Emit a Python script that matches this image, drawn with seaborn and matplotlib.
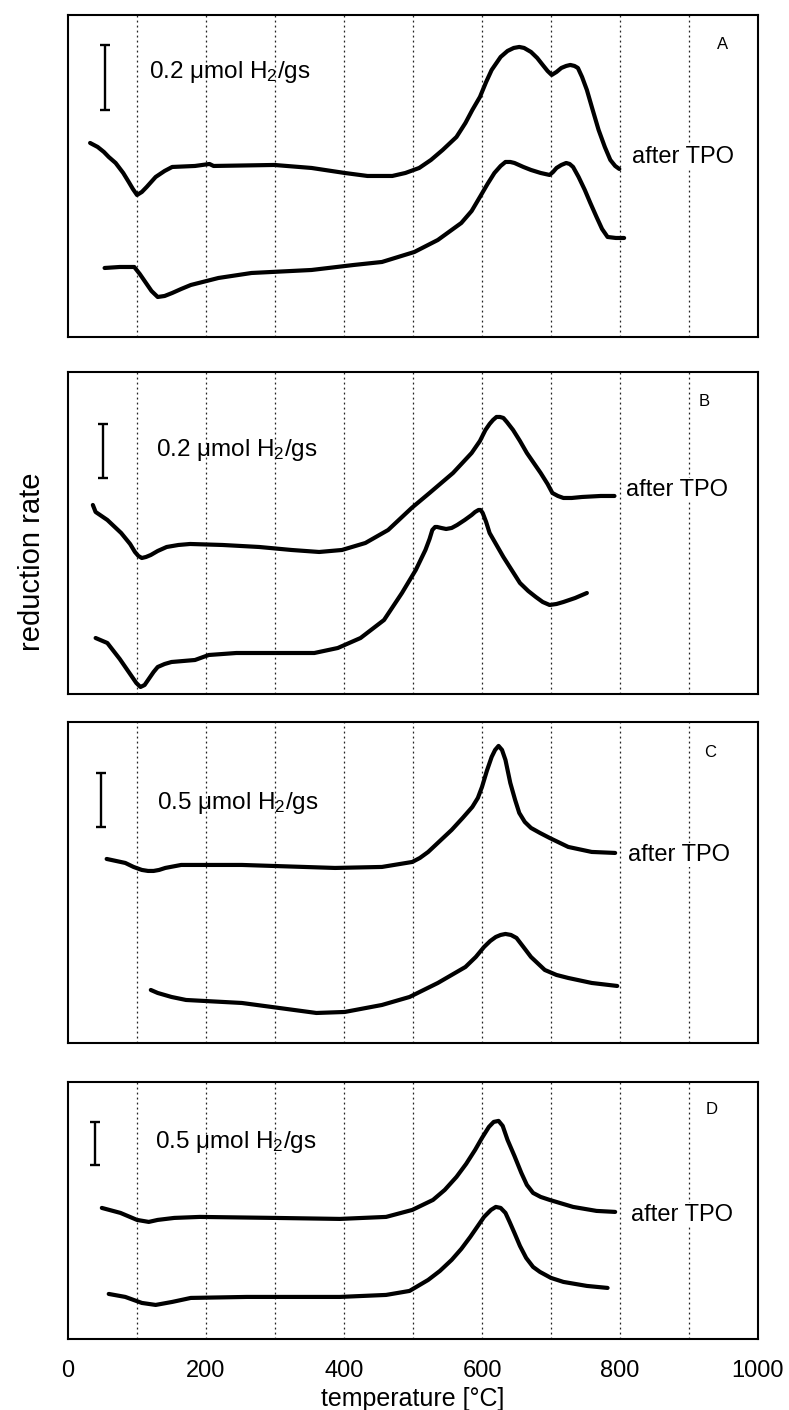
import numpy as np
import pandas as pd
import seaborn as sns
import matplotlib.pyplot as plt

# temperature [C] and signal (arbitrary units, height above panel floor)
a_tpo_t = [32, 43, 52, 59, 69, 80, 88, 94, 100, 107, 114, 127, 140, 151, 184, 205, 211, 299, 353, 401,
           434, 470, 489, 509, 526, 543, 563, 576, 586, 597, 606, 614, 621, 627, 637, 646, 654, 661, 671,
           680, 688, 695, 701, 708, 715, 722, 728, 734, 739, 745, 752, 760, 769, 778, 786, 793, 799]
a_tpo_y = [194, 190, 185, 180, 174, 164, 155, 148, 142, 145, 150, 160, 166, 170, 171, 173, 171, 172, 169, 164,
           161, 161, 164, 169, 177, 187, 200, 214, 227, 240, 255, 267, 274, 280, 286, 289, 290, 289, 285,
           279, 272, 266, 262, 265, 269, 271, 272, 271, 269, 260, 247, 228, 207, 190, 177, 171, 168]
a_raw_t = [53, 75, 96, 104, 113, 121, 130, 140, 151, 164, 178, 218, 266, 353, 414, 455, 502, 536, 570, 585,
           597, 608, 618, 627, 634, 641, 647, 660, 671, 685, 698, 703, 708, 715, 722, 727, 732, 740, 749,
           757, 766, 774, 782, 794, 806]
a_raw_y = [69, 70, 70, 63, 54, 46, 40, 41, 44, 48, 52, 59, 64, 67, 72, 75, 85, 97, 114, 126,
           140, 153, 164, 171, 175, 175, 174, 170, 167, 164, 162, 165, 169, 172, 174, 173, 170, 160, 147,
           134, 120, 108, 100, 99, 99]

b_tpo_t = [36, 40, 57, 77, 90, 97, 102, 107, 113, 120, 130, 143, 160, 177, 224, 277, 324, 364, 397, 431,
           464, 498, 524, 558, 585, 597, 605, 611, 616, 621, 626, 631, 636, 645, 655, 665, 685, 695, 702,
           710, 718, 730, 745, 772, 792]
b_tpo_y = [189, 182, 174, 161, 150, 142, 138, 136, 137, 139, 143, 147, 149, 150, 149, 147, 144, 142, 144, 151,
           164, 186, 201, 221, 241, 253, 264, 270, 274, 277, 277, 276, 272, 264, 253, 241, 221, 210, 201,
           198, 196, 196, 197, 198, 198]
b_raw_t = [40, 57, 66, 75, 84, 92, 99, 105, 111, 118, 124, 130, 140, 150, 184, 204, 244, 297, 357, 391,
           424, 458, 484, 504, 518, 524, 528, 532, 535, 541, 548, 556, 564, 575, 585, 590, 595, 598, 601,
           606, 611, 621, 631, 643, 655, 667, 678, 688, 698, 708, 718, 735, 752]
b_raw_y = [56, 51, 43, 35, 26, 18, 11, 7, 9, 16, 22, 27, 30, 32, 34, 39, 41, 41, 41, 46,
           56, 74, 101, 124, 144, 155, 164, 167, 167, 166, 165, 166, 169, 174, 179, 182, 184, 184, 181,
           172, 161, 149, 137, 124, 111, 103, 97, 92, 89, 90, 92, 96, 101]

c_tpo_t = [56, 83, 95, 107, 116, 124, 132, 141, 164, 252, 387, 455, 499, 510, 522, 539, 556, 572, 586,
           594, 600, 607, 614, 619, 624, 629, 634, 641, 648, 654, 662, 671, 684, 698, 725, 759, 793]
c_tpo_y = [184, 180, 176, 173, 172, 172, 173, 175, 178, 178, 175, 176, 181, 185, 191, 202, 213, 225, 236,
           245, 256, 272, 286, 293, 297, 293, 283, 260, 243, 230, 221, 215, 210, 205, 196, 191, 190]
c_raw_t = [120, 130, 150, 171, 252, 306, 360, 401, 455, 495, 536, 576, 591, 603, 612, 620, 627, 634, 642,
           650, 660, 671, 691, 708, 725, 759, 796]
c_raw_y = [53, 50, 46, 43, 40, 35, 30, 31, 38, 46, 60, 76, 86, 96, 102, 106, 108, 109, 108,
           105, 96, 86, 73, 68, 65, 60, 57]

d_tpo_t = [49, 76, 100, 117, 130, 154, 191, 299, 394, 461, 499, 529, 546, 563, 577, 590, 600, 610, 617,
           624, 630, 637, 647, 657, 665, 674, 685, 698, 732, 766, 793]
d_tpo_y = [131, 126, 119, 117, 119, 121, 122, 121, 120, 122, 129, 139, 149, 162, 175, 189, 201, 212, 217,
           218, 213, 199, 183, 166, 154, 146, 142, 139, 132, 128, 127]
d_raw_t = [59, 83, 107, 127, 151, 178, 259, 394, 461, 495, 522, 539, 556, 570, 583, 594, 603, 613, 620,
           627, 634, 640, 647, 655, 664, 674, 684, 700, 718, 752, 782]
d_raw_y = [45, 42, 36, 34, 37, 41, 42, 42, 44, 48, 59, 68, 79, 90, 102, 113, 122, 129, 132,
           131, 126, 117, 106, 93, 81, 72, 67, 61, 57, 53, 51]

panel_names = ['A', 'B', 'C', 'D']
scale_labels = ['0.2 \u03bcmol H$_2$/gs', '0.2 \u03bcmol H$_2$/gs',
                '0.5 \u03bcmol H$_2$/gs', '0.5 \u03bcmol H$_2$/gs']

sns.set_theme(style='white')
plt.rcParams['font.family'] = ['Liberation Sans', 'DejaVu Sans']
plt.rcParams['mathtext.fontset'] = 'custom'
plt.rcParams['mathtext.rm'] = 'Liberation Sans'
plt.rcParams['mathtext.default'] = 'regular'
plt.rcParams['text.color'] = 'black'
plt.rcParams['axes.labelcolor'] = 'black'
plt.rcParams['xtick.color'] = 'black'

fig = plt.figure(figsize=(7.89, 14.10), dpi=100)

# panel geometry (left, bottom, width, height) and layout of annotations
boxes = [(0.0862, 0.7610, 0.8745, 0.2284),
         (0.0862, 0.5078, 0.8745, 0.2284),
         (0.0862, 0.2603, 0.8745, 0.2277),
         (0.0862, 0.0504, 0.8745, 0.1823)]
ytops = [322, 322, 321, 257]
bar_x = [54, 50, 48, 39]
bar_c = [259.5, 243, 243, 195.5]
bar_h = [32.5, 27, 27, 21.5]
txt_pos = [(117, 265), (127, 244), (129, 240), (126, 197)]
let_pos = [(948, 292), (922, 292), (931, 290), (933, 229)]
tpo_pos = [(818, 180), (808, 204), (812, 188), (816, 124)]

curves = [((a_tpo_t, a_tpo_y), (a_raw_t, a_raw_y)),
          ((b_tpo_t, b_tpo_y), (b_raw_t, b_raw_y)),
          ((c_tpo_t, c_tpo_y), (c_raw_t, c_raw_y)),
          ((d_tpo_t, d_tpo_y), (d_raw_t, d_raw_y))]

axes = []
for i, box in enumerate(boxes):
    ax = fig.add_axes(box)
    axes.append(ax)
    for t, y in curves[i]:
        df = pd.DataFrame({'t': t, 'y': y})
        sns.lineplot(data=df, x='t', y='y', ax=ax, color='black', lw=3.0,
                     sort=False, estimator=None)
        ax.lines[-1].set_solid_joinstyle('round')
        ax.lines[-1].set_solid_capstyle('round')
    for g in range(100, 1000, 100):
        ax.axvline(g, color='#222222', lw=0.9, ls=(0, (1.5, 2.5)), zorder=0)
    ax.errorbar(bar_x[i], bar_c[i], yerr=bar_h[i], color='black', lw=1.7,
                capsize=3.5, capthick=1.7)
    ax.text(txt_pos[i][0], txt_pos[i][1], scale_labels[i], fontsize=17.5,
            va='center', ha='left')
    ax.text(let_pos[i][0], let_pos[i][1], panel_names[i], fontsize=12,
            va='center', ha='center')
    ax.text(tpo_pos[i][0], tpo_pos[i][1], 'after TPO', fontsize=17,
            va='center', ha='left', bbox=dict(facecolor='white', edgecolor='none', pad=0.5))
    ax.set_xlim(0, 1000)
    ax.set_ylim(0, ytops[i])
    ax.set_xticks(range(0, 1001, 200))
    ax.set_yticks([])
    ax.tick_params(axis='x', direction='in', length=5, width=1, labelsize=17, pad=15)
    ax.set_xlabel('')
    ax.set_ylabel('')
    for s in ax.spines.values():
        s.set_color('black')
        s.set_linewidth(1.5)
    if i < 3:
        ax.tick_params(axis='x', labelbottom=False)

axes[3].set_xlabel('temperature [\u00b0C]', fontsize=18, labelpad=4)
fig.text(0.041, 1 - 562 / 1410, 'reduction rate', rotation=90, fontsize=21,
         va='center', ha='center')

fig.savefig('out.png', dpi=100)
